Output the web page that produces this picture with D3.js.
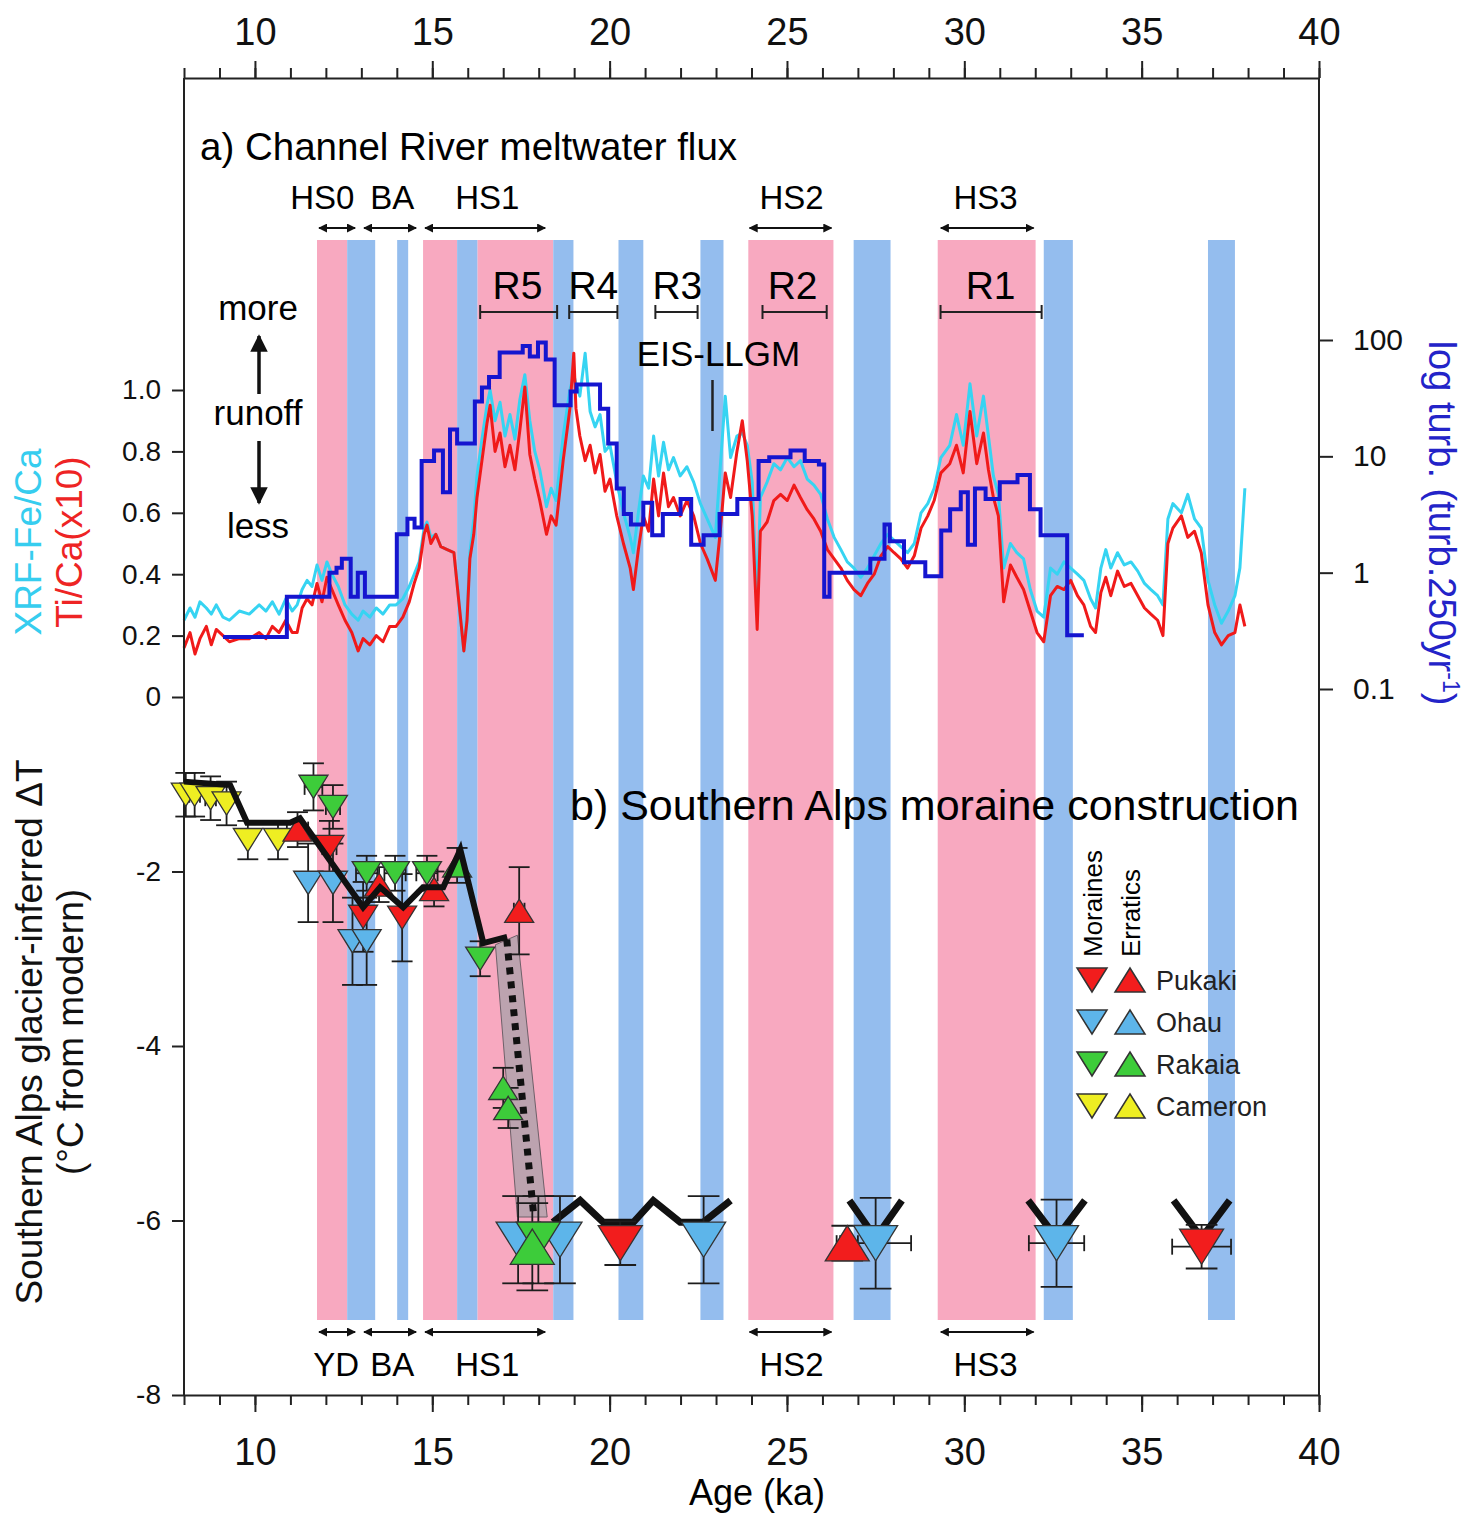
<!DOCTYPE html>
<html>
<head>
<meta charset="utf-8">
<script src="https://cdn.jsdelivr.net/npm/d3@7"></script>
<style>
  body { margin: 0; background: #fff; }
  svg { font-family: "Liberation Sans", Arial, Helvetica, sans-serif; }
</style>
</head>
<body>
<script>
const w = 1472;
const h = 1520;

// shaded intervals (ka)
const pinkBands = [[11.75, 12.6], [14.74, 15.7], [16.27, 18.41], [23.91, 26.31], [29.25, 32.01]];
const blueBands = [[12.6, 13.39], [14.01, 14.32], [15.7, 16.27], [18.41, 18.98], [20.25, 20.95],
  [22.56, 23.21], [26.88, 27.92], [32.24, 33.06], [36.87, 37.63]];

// stadial / interstadial arrows
const hsTopLabels = ["HS0", "BA", "HS1", "HS2", "HS3"];
const hsBottomLabels = ["YD", "BA", "HS1", "HS2", "HS3"];
const hsStart = [11.75, 13.02, 14.74, 23.89, 29.28];
const hsEnd = [12.88, 14.6, 18.24, 26.31, 32.01];
const hsTopMid = [11.9, 13.87, 16.55, 25.13, 30.6];
const hsBottomMid = [12.29, 13.87, 16.55, 25.13, 30.6];

// runoff events
const rLabels = ["R5", "R4", "R3", "R2", "R1"];
const rStart = [16.35, 18.86, 21.29, 24.31, 29.33];
const rEnd = [18.52, 20.22, 22.48, 26.12, 32.18];
const rMid = [17.4, 19.54, 21.91, 25.16, 30.74];
const llgmAge = 22.9;

// core XRF ratios (age ka)
const coreAge = [
  8.0, 8.17, 8.31, 8.45, 8.63, 8.77, 8.91, 9.1, 9.28, 9.56,
  9.84, 10.12, 10.31, 10.49, 10.68, 10.87, 11.05, 11.19, 11.33, 11.47,
  11.61, 11.75, 11.89, 12.03, 12.17, 12.35, 12.54, 12.73, 12.91, 13.05,
  13.24, 13.42, 13.61, 13.8, 13.98, 14.17, 14.35, 14.49, 14.63, 14.77,
  14.85, 14.96, 15.1, 15.24, 15.42, 15.61, 15.75, 15.89, 15.98, 16.06,
  16.17, 16.26, 16.4, 16.54, 16.63, 16.77, 16.91, 17.05, 17.19, 17.33,
  17.47, 17.61, 17.75, 17.89, 18.03, 18.22, 18.35, 18.49,
  18.69, 18.88, 18.99, 19.05, 19.16, 19.31, 19.45, 19.59, 19.73, 19.87,
  20.01, 20.2, 20.39, 20.58, 20.67, 20.81, 20.95, 21.1, 21.24, 21.38,
  21.52, 21.66, 21.8, 21.99, 22.18, 22.37, 22.56, 22.75, 22.98, 23.12,
  23.26, 23.41, 23.59, 23.74, 23.88, 24.02, 24.16, 24.25, 24.44, 24.63,
  24.82, 25.01, 25.2, 25.38, 25.57, 25.76, 25.95, 26.14, 26.33, 26.52,
  26.7, 26.89, 27.08, 27.27, 27.46, 27.65, 27.84, 28.02, 28.21, 28.4,
  28.59, 28.78, 28.97, 29.15, 29.34,
  29.59, 29.78, 29.97, 30.16, 30.35, 30.54, 30.68, 30.82, 30.96, 31.11,
  31.3, 31.48, 31.67, 31.86, 32.05, 32.24, 32.43, 32.62, 32.81, 33.0,
  33.19, 33.37, 33.56, 33.7, 33.85, 33.99, 34.13, 34.32, 34.51, 34.7,
  34.89, 35.08, 35.26, 35.45, 35.6, 35.74, 35.88, 36.12, 36.3, 36.49,
  36.68, 36.87, 37.06, 37.25, 37.44, 37.63, 37.77, 37.91
];
const tiCa = [
  0.16, 0.21, 0.14, 0.19, 0.23, 0.17, 0.22, 0.20, 0.18, 0.19,
  0.19, 0.21, 0.19, 0.23, 0.21, 0.25, 0.21, 0.21, 0.29, 0.32,
  0.30, 0.37, 0.31, 0.39, 0.35, 0.30, 0.25, 0.21, 0.15, 0.19,
  0.17, 0.20, 0.18, 0.23, 0.23, 0.26, 0.31, 0.37, 0.42, 0.53,
  0.56, 0.50, 0.53, 0.49, 0.48, 0.47, 0.31, 0.15, 0.25, 0.45,
  0.53, 0.65, 0.77, 0.89, 0.95, 0.80, 0.86, 0.75, 0.82, 0.74,
  0.87, 1.01, 0.79, 0.71, 0.64, 0.53, 0.59, 0.56,
  0.77, 0.94, 1.12, 0.94, 0.85, 0.77, 0.82, 0.73, 0.79, 0.67,
  0.71, 0.59, 0.50, 0.42, 0.35, 0.48, 0.59, 0.54, 0.71, 0.59,
  0.73, 0.62, 0.65, 0.59, 0.64, 0.59, 0.50, 0.45, 0.38, 0.54,
  0.73, 0.65, 0.80, 0.90, 0.77, 0.59, 0.22, 0.54, 0.57, 0.64,
  0.66, 0.64, 0.69, 0.65, 0.61, 0.58, 0.54, 0.48, 0.45, 0.42,
  0.38, 0.35, 0.33, 0.37, 0.40, 0.46, 0.49, 0.47, 0.45, 0.42,
  0.46, 0.55, 0.59, 0.64, 0.73,
  0.76, 0.82, 0.73, 0.93, 0.76, 0.86, 0.74, 0.65, 0.59, 0.31,
  0.43, 0.39, 0.35, 0.28, 0.21, 0.18, 0.33, 0.36, 0.35, 0.38,
  0.33, 0.30, 0.23, 0.21, 0.34, 0.39, 0.33, 0.41, 0.36, 0.37,
  0.33, 0.29, 0.27, 0.25, 0.20, 0.50, 0.55, 0.59, 0.52, 0.54,
  0.47, 0.30, 0.21, 0.17, 0.20, 0.21, 0.30, 0.23
];
const feCa = [
  0.25, 0.29, 0.26, 0.31, 0.29, 0.27, 0.30, 0.26, 0.25, 0.28,
  0.27, 0.30, 0.28, 0.31, 0.27, 0.32, 0.28, 0.30, 0.35, 0.38,
  0.36, 0.43, 0.38, 0.44, 0.40, 0.36, 0.30, 0.27, 0.25, 0.28,
  0.26, 0.29, 0.27, 0.30, 0.30, 0.32, 0.36, 0.40, 0.44, 0.55,
  0.57, 0.52, 0.53, 0.49, 0.48, 0.47, 0.31, 0.15, 0.27, 0.47,
  0.58, 0.72, 0.84, 0.95, 1.00, 0.90, 0.96, 0.85, 0.92, 0.84,
  0.97, 1.05, 0.90, 0.80, 0.74, 0.62, 0.68, 0.64,
  0.85, 1.00, 1.05, 1.02, 0.98, 1.12, 0.93, 0.88, 0.92, 0.80,
  0.82, 0.70, 0.60, 0.52, 0.47, 0.60, 0.72, 0.68, 0.85, 0.72,
  0.83, 0.74, 0.78, 0.72, 0.75, 0.70, 0.63, 0.58, 0.52, 0.75,
  0.98, 0.78, 0.85, 0.86, 0.82, 0.70, 0.30, 0.65, 0.70, 0.76,
  0.74, 0.78, 0.75, 0.77, 0.71, 0.69, 0.66, 0.58, 0.52, 0.48,
  0.44, 0.42, 0.39, 0.42, 0.46, 0.50, 0.53, 0.51, 0.49, 0.47,
  0.50, 0.60, 0.63, 0.68, 0.78,
  0.82, 0.92, 0.82, 1.02, 0.85, 0.98, 0.85, 0.72, 0.66, 0.42,
  0.50, 0.47, 0.45, 0.35, 0.28, 0.26, 0.42, 0.40, 0.44, 0.42,
  0.40, 0.38, 0.32, 0.29, 0.42, 0.48, 0.42, 0.47, 0.43, 0.44,
  0.41, 0.37, 0.35, 0.33, 0.30, 0.58, 0.63, 0.60, 0.66, 0.58,
  0.55, 0.38, 0.30, 0.24, 0.28, 0.33, 0.42, 0.68
];

// turbidite frequency, 250 yr bins (step starts)
const turbAge = [
  9.1, 10.9, 12.1, 12.3, 12.45, 12.7, 12.9, 13.1, 14.0, 14.3,
  14.5, 14.7, 15.05, 15.3, 15.5, 15.7, 16.2, 16.4, 16.6, 16.9,
  17.55, 17.75, 17.98, 18.2, 18.45, 18.9, 19.07, 19.73, 19.96, 20.2,
  20.4, 20.6, 20.95, 21.2, 21.5, 22.0, 22.3, 22.65, 23.1, 23.6,
  24.2, 24.5, 25.1, 25.5, 25.9, 26.05, 26.2, 27.35, 27.75, 27.9,
  28.3, 28.9, 29.35, 29.6, 29.9, 30.1, 30.3, 30.6, 31.0, 31.5,
  31.85, 32.15, 32.9, 33.37
];
const turbVal = [
  0.28, 0.62, 1.0, 1.1, 1.32, 0.62, 1.0, 0.62, 2.14, 2.9,
  2.45, 9.1, 11.2, 4.9, 17, 12.9, 29.6, 39, 48, 78,
  89, 72, 95, 68, 27.5, 36, 41.5, 25.6, 12.9, 5.3,
  3.2, 2.6, 4.0, 2.1, 3.2, 4.3, 1.74, 2.1, 3.2, 4.3,
  9.1, 9.8, 11.2, 9.1, 8.5, 0.62, 1.0, 1.32, 2.6, 1.86,
  1.23, 0.93, 2.3, 3.5, 4.9, 1.74, 5.3, 4.3, 6.0, 6.9,
  3.5, 2.1, 0.29, 0.29
];

// moraine / erratic dated glacier positions as ΔT
const mAge = [8.05, 8.3, 8.75, 9.2, 9.8, 10.65, 11.2, 11.5, 11.65, 12.1,
  12.2, 12.2, 12.75, 13.15, 13.05, 13.15, 13.5, 13.95, 14.15, 14.85,
  15.05, 15.7, 16.35, 17.0, 17.14, 17.45, 17.42, 18.6, 17.99, 17.82,
  20.3, 22.65, 26.7, 27.5, 32.6, 36.69];
const mT = [-1.12, -1.12, -1.16, -1.22, -1.64, -1.64, -1.52, -2.13, -1.03, -1.72,
  -1.26, -2.13, -2.8, -2.8, -2.52, -2.02, -2.15, -2.02, -2.53, -2.02,
  -2.2, -1.93, -3.0, -4.48, -4.71, -2.45, -6.22, -6.22, -6.22, -6.3,
  -6.26, -6.22, -6.26, -6.26, -6.26, -6.3];
const mSite = ["Cameron", "Cameron", "Cameron", "Cameron", "Cameron", "Cameron", "Pukaki", "Ohau", "Rakaia", "Pukaki",
  "Rakaia", "Ohau", "Ohau", "Ohau", "Pukaki", "Rakaia", "Pukaki", "Rakaia", "Pukaki", "Rakaia",
  "Pukaki", "Rakaia", "Rakaia", "Rakaia", "Rakaia", "Pukaki", "Ohau", "Ohau", "Rakaia", "Rakaia",
  "Pukaki", "Ohau", "Pukaki", "Ohau", "Ohau", "Pukaki"];
const mType = ["M", "M", "M", "M", "M", "M", "E", "M", "M", "M",
  "M", "M", "M", "M", "M", "M", "E", "M", "M", "M",
  "E", "E", "M", "E", "E", "E", "M", "M", "M", "E",
  "M", "M", "E", "M", "M", "M"];
const mTErr = [0.25, 0.25, 0.25, 0.25, 0.22, 0.22, 0.2, 0.45, 0.27, 0.3,
  0.25, 0.45, 0.5, 0.5, 0.4, 0.2, 0.2, 0.2, 0.5, 0.2,
  0.2, 0.2, 0.2, 0.23, 0.23, 0.5, 0.5, 0.5, 0.5, 0.5,
  0.25, 0.5, 0.2, 0.52, 0.5, 0.25];
const mAgeErr = [0, 0.15, 0.15, 0, 0, 0, 0.3, 0, 0.25, 0.2,
  0.2, 0, 0, 0, 0, 0.3, 0, 0.3, 0, 0.3,
  0, 0, 0, 0, 0, 0.15, 0, 0, 0, 0,
  0, 0, 0.3, 1.0, 0.78, 0.83];

// stacked ΔT reconstruction
const stackA = [[8.0, -0.97], [9.3, -1.01], [9.78, -1.44], [10.99, -1.44], [11.27, -1.39],
  [13.05, -2.41], [13.53, -2.18], [14.18, -2.41], [14.74, -2.18], [15.31, -2.18],
  [15.79, -1.75], [16.44, -2.82], [17.11, -2.75]];
const stackB = [[18.4, -6.02], [19.17, -5.77], [19.82, -6.02], [20.67, -6.02], [21.23, -5.77],
  [21.99, -6.02], [22.64, -6.02], [23.41, -5.77]];
const stackV = [
  [[26.76, -5.77], [27.5, -6.2], [28.24, -5.77]],
  [[31.8, -5.77], [32.6, -6.2], [33.4, -5.77]],
  [[35.9, -5.77], [36.69, -6.2], [37.48, -5.77]]
];
const deglacLine = [[17.1, -2.78], [17.85, -5.9]];
const deglacEnvelope = [[16.78, -2.84], [17.4, -2.73], [18.24, -5.96], [17.4, -5.96]];

const legendSites = ["Pukaki", "Ohau", "Rakaia", "Cameron"];
const siteColor = { Pukaki: "#f21d1d", Ohau: "#5db5ea", Rakaia: "#3dcc3a", Cameron: "#eeee22" };

const svg = d3
  .select("body")
  .append("svg")
  .attr("width", w)
  .attr("height", h);

const x = d3.scaleLinear().domain([8, 40]).range([184, 1319]);
const yRatio = d3.scaleLinear().domain([0, 1]).range([697, 390]);
const yTurb = d3.scaleLog().domain([0.1, 100]).range([689, 340]);
const yDT = d3.scaleLinear().domain([0, -8]).range([697, 1395]);
const frameTop = 78;
const frameBottom = 1395;

// arrow heads
const defs = svg.append("defs");
defs
  .append("marker")
  .attr("id", "head")
  .attr("viewBox", "0 0 10 10")
  .attr("refX", 9)
  .attr("refY", 5)
  .attr("markerWidth", 4.5)
  .attr("markerHeight", 4.5)
  .attr("orient", "auto-start-reverse")
  .append("path")
  .attr("d", "M0,0 L10,5 L0,10 z")
  .attr("fill", "#111");
defs
  .append("marker")
  .attr("id", "bighead")
  .attr("viewBox", "0 0 10 10")
  .attr("refX", 9)
  .attr("refY", 5)
  .attr("markerWidth", 5)
  .attr("markerHeight", 5)
  .attr("orient", "auto")
  .append("path")
  .attr("d", "M0,0 L10,5 L0,10 z")
  .attr("fill", "#111");

// bands
svg
  .selectAll("rect.pink")
  .data(pinkBands)
  .enter()
  .append("rect")
  .attr("x", d => x(d[0]))
  .attr("width", d => x(d[1]) - x(d[0]))
  .attr("y", 240)
  .attr("height", 1320 - 240)
  .attr("fill", "#f8a9c0");
svg
  .selectAll("rect.blue")
  .data(blueBands)
  .enter()
  .append("rect")
  .attr("x", d => x(d[0]))
  .attr("width", d => x(d[1]) - x(d[0]))
  .attr("y", 240)
  .attr("height", 1320 - 240)
  .attr("fill", "#94bdee");

// upper panel series
const ratioLine = d3
  .line()
  .x(d => x(d[0]))
  .y(d => yRatio(d[1]));
svg
  .append("path")
  .attr("d", ratioLine(coreAge.map((a, i) => [a, feCa[i]])))
  .attr("fill", "none")
  .attr("stroke", "#36d4f2")
  .attr("stroke-width", 3)
  .attr("stroke-linejoin", "round");
svg
  .append("path")
  .attr("d", ratioLine(coreAge.map((a, i) => [a, tiCa[i]])))
  .attr("fill", "none")
  .attr("stroke", "#f01a1a")
  .attr("stroke-width", 3)
  .attr("stroke-linejoin", "round");
svg
  .append("path")
  .attr(
    "d",
    d3
      .line()
      .curve(d3.curveStepAfter)
      .x(d => x(d[0]))
      .y(d => yTurb(d[1]))(turbAge.map((a, i) => [a, turbVal[i]]))
  )
  .attr("fill", "none")
  .attr("stroke", "#1515cf")
  .attr("stroke-width", 4);

// axes
function styleAxis(g, size) {
  g.selectAll("line").attr("stroke", "#222").attr("stroke-width", 2);
  g.selectAll("path").attr("stroke", "#222").attr("stroke-width", 2);
  g.selectAll("text").style("font-size", size + "px").attr("fill", "#111");
}

const minorTicks = d3.range(8, 41);
const majorTicks = d3.range(10, 41, 5);

svg
  .append("g")
  .attr("transform", "translate(0," + frameTop + ")")
  .call(d3.axisTop(x).tickValues(minorTicks).tickSize(10).tickFormat("").tickSizeOuter(0))
  .call(g => styleAxis(g, 38));
svg
  .append("g")
  .attr("transform", "translate(0," + frameTop + ")")
  .call(d3.axisTop(x).tickValues(majorTicks).tickSize(17).tickPadding(16).tickSizeOuter(0))
  .call(g => g.select(".domain").remove())
  .call(g => styleAxis(g, 38));

svg
  .append("g")
  .attr("transform", "translate(0," + frameBottom + ")")
  .call(d3.axisBottom(x).tickValues(minorTicks).tickSize(10).tickFormat("").tickSizeOuter(0))
  .call(g => styleAxis(g, 38));
svg
  .append("g")
  .attr("transform", "translate(0," + frameBottom + ")")
  .call(d3.axisBottom(x).tickValues(majorTicks).tickSize(17).tickPadding(26).tickSizeOuter(0))
  .call(g => g.select(".domain").remove())
  .call(g => styleAxis(g, 38));

// left axis, two scales sharing the zero
svg
  .append("g")
  .attr("transform", "translate(" + x(8) + ",0)")
  .call(
    d3
      .axisLeft(yRatio)
      .tickValues([0, 0.2, 0.4, 0.6, 0.8, 1.0])
      .tickFormat(d => (d === 0 ? "0" : d3.format(".1f")(d)))
      .tickSize(12)
      .tickPadding(11)
  )
  .call(g => g.select(".domain").remove())
  .call(g => styleAxis(g, 28));
svg
  .append("g")
  .attr("transform", "translate(" + x(8) + ",0)")
  .call(
    d3
      .axisLeft(yDT)
      .tickValues([-2, -4, -6, -8])
      .tickFormat(d => String(d))
      .tickSize(12)
      .tickPadding(11)
  )
  .call(g => g.select(".domain").remove())
  .call(g => styleAxis(g, 28));

// right log axis
svg
  .append("g")
  .attr("transform", "translate(" + x(40) + ",0)")
  .call(
    d3
      .axisRight(yTurb)
      .tickValues([0.1, 1, 10, 100])
      .tickFormat(d => (d < 1 ? "0.1" : d3.format("d")(d)))
      .tickSize(14)
      .tickPadding(20)
  )
  .call(g => g.select(".domain").remove())
  .call(g => styleAxis(g, 30));

// frame sides
svg
  .append("line")
  .attr("x1", x(8)).attr("x2", x(8))
  .attr("y1", frameTop).attr("y2", frameBottom)
  .attr("stroke", "#222").attr("stroke-width", 2);
svg
  .append("line")
  .attr("x1", x(40)).attr("x2", x(40))
  .attr("y1", frameTop).attr("y2", frameBottom)
  .attr("stroke", "#222").attr("stroke-width", 2);

// panel a annotations
svg
  .append("text")
  .attr("x", 200)
  .attr("y", 160)
  .style("font-size", "38.5px")
  .text("a) Channel River meltwater flux");

svg
  .selectAll("text.hsTop")
  .data(hsTopLabels)
  .enter()
  .append("text")
  .attr("x", (d, i) => x(hsTopMid[i]))
  .attr("y", 209)
  .attr("text-anchor", "middle")
  .style("font-size", "33px")
  .text(d => d);

function hsArrows(yPos) {
  svg
    .selectAll(null)
    .data(hsStart)
    .enter()
    .append("line")
    .attr("x1", (d, i) => x(hsStart[i]) + 2)
    .attr("x2", (d, i) => x(hsEnd[i]) - 2)
    .attr("y1", yPos)
    .attr("y2", yPos)
    .attr("stroke", "#111")
    .attr("stroke-width", 2)
    .attr("marker-start", "url(#head)")
    .attr("marker-end", "url(#head)");
}
hsArrows(228);
hsArrows(1332);

svg
  .selectAll("text.hsBottom")
  .data(hsBottomLabels)
  .enter()
  .append("text")
  .attr("x", (d, i) => x(hsBottomMid[i]))
  .attr("y", 1376)
  .attr("text-anchor", "middle")
  .style("font-size", "33px")
  .text(d => d);

// R brackets
svg
  .selectAll("text.r")
  .data(rLabels)
  .enter()
  .append("text")
  .attr("x", (d, i) => x(rMid[i]))
  .attr("y", 299)
  .attr("text-anchor", "middle")
  .style("font-size", "39px")
  .text(d => d);
rLabels.forEach((d, i) => {
  const g = svg.append("g").attr("stroke", "#222").attr("stroke-width", 2);
  g.append("line").attr("x1", x(rStart[i])).attr("x2", x(rEnd[i])).attr("y1", 312).attr("y2", 312);
  g.append("line").attr("x1", x(rStart[i])).attr("x2", x(rStart[i])).attr("y1", 305).attr("y2", 319);
  g.append("line").attr("x1", x(rEnd[i])).attr("x2", x(rEnd[i])).attr("y1", 305).attr("y2", 319);
});

svg
  .append("text")
  .attr("x", x(23.07))
  .attr("y", 366)
  .attr("text-anchor", "middle")
  .style("font-size", "35px")
  .text("EIS-LLGM");
svg
  .append("line")
  .attr("x1", x(llgmAge)).attr("x2", x(llgmAge))
  .attr("y1", 380).attr("y2", 431)
  .attr("stroke", "#222").attr("stroke-width", 2.5);

// runoff direction
[["more", 320], ["runoff", 425], ["less", 538]].forEach(d => {
  svg
    .append("text")
    .attr("x", 258)
    .attr("y", d[1])
    .attr("text-anchor", "middle")
    .style("font-size", "35px")
    .text(d[0]);
});
svg
  .append("line")
  .attr("x1", 259).attr("x2", 259)
  .attr("y1", 394).attr("y2", 336)
  .attr("stroke", "#111").attr("stroke-width", 3.5)
  .attr("marker-end", "url(#bighead)");
svg
  .append("line")
  .attr("x1", 259).attr("x2", 259)
  .attr("y1", 441).attr("y2", 503)
  .attr("stroke", "#111").attr("stroke-width", 3.5)
  .attr("marker-end", "url(#bighead)");

// axis titles
svg
  .append("text")
  .attr("transform", "translate(41,542) rotate(-90)")
  .attr("text-anchor", "middle")
  .style("font-size", "37px")
  .attr("fill", "#36cdef")
  .text("XRF-Fe/Ca");
svg
  .append("text")
  .attr("transform", "translate(82,542) rotate(-90)")
  .attr("text-anchor", "middle")
  .style("font-size", "37px")
  .attr("fill", "#ee2424")
  .text("Ti/Ca(x10)");
svg
  .append("text")
  .attr("transform", "translate(42,1032) rotate(-90)")
  .attr("text-anchor", "middle")
  .style("font-size", "37px")
  .attr("fill", "#111")
  .text("Southern Alps glacier-inferred ΔT");
svg
  .append("text")
  .attr("transform", "translate(83,1032) rotate(-90)")
  .attr("text-anchor", "middle")
  .style("font-size", "37px")
  .attr("fill", "#111")
  .text("(°C from modern)");
const turbTitle = svg
  .append("text")
  .attr("transform", "translate(1429,523) rotate(90)")
  .attr("text-anchor", "middle")
  .style("font-size", "38px")
  .attr("fill", "#2323c8");
turbTitle.append("tspan").text("log turb. (turb.250yr");
turbTitle.append("tspan").attr("dy", -14).style("font-size", "23px").text("-1");
turbTitle.append("tspan").attr("dy", 14).text(")");

svg
  .append("text")
  .attr("x", 757)
  .attr("y", 1505)
  .attr("text-anchor", "middle")
  .style("font-size", "36px")
  .text("Age (ka)");

// panel b
svg
  .append("text")
  .attr("x", 570)
  .attr("y", 820)
  .style("font-size", "43px")
  .text("b) Southern Alps moraine construction");

svg
  .append("path")
  .attr("d", d3.line().x(d => x(d[0])).y(d => yDT(d[1]))(deglacEnvelope) + "Z")
  .attr("fill", "#b5a2ad")
  .attr("fill-opacity", 0.9)
  .attr("stroke", "#6f6069")
  .attr("stroke-width", 1);

const dtLine = d3
  .line()
  .x(d => x(d[0]))
  .y(d => yDT(d[1]));

// thick stack lines behind the LGM markers
[stackB].concat(stackV).forEach(seg => {
  svg
    .append("path")
    .attr("d", dtLine(seg))
    .attr("fill", "none")
    .attr("stroke", "#111")
    .attr("stroke-width", 7);
});

function triPath(cx, cy, s, up) {
  const hh = s * 0.4;
  const p = d3.path();
  if (up) {
    p.moveTo(cx, cy - hh);
    p.lineTo(cx + s / 2, cy + hh);
    p.lineTo(cx - s / 2, cy + hh);
  } else {
    p.moveTo(cx - s / 2, cy - hh);
    p.lineTo(cx + s / 2, cy - hh);
    p.lineTo(cx, cy + hh);
  }
  p.closePath();
  return p.toString();
}

const markerSize = i => (mT[i] < -5 ? 44 : 29);

// error bars
mAge.forEach((a, i) => {
  const cx = x(a);
  const cy = yDT(mT[i]);
  const cap = markerSize(i) * 0.36;
  const g = svg.append("g").attr("stroke", "#1d1d1d").attr("stroke-width", 1.8);
  const y1 = yDT(mT[i] + mTErr[i]);
  const y2 = yDT(mT[i] - mTErr[i]);
  g.append("line").attr("x1", cx).attr("x2", cx).attr("y1", y1).attr("y2", y2);
  g.append("line").attr("x1", cx - cap).attr("x2", cx + cap).attr("y1", y1).attr("y2", y1);
  g.append("line").attr("x1", cx - cap).attr("x2", cx + cap).attr("y1", y2).attr("y2", y2);
  if (mAgeErr[i] > 0) {
    const x1 = x(a - mAgeErr[i]);
    const x2 = x(a + mAgeErr[i]);
    g.append("line").attr("x1", x1).attr("x2", x2).attr("y1", cy).attr("y2", cy);
    g.append("line").attr("x1", x1).attr("x2", x1).attr("y1", cy - 8).attr("y2", cy + 8);
    g.append("line").attr("x1", x2).attr("x2", x2).attr("y1", cy - 8).attr("y2", cy + 8);
  }
});

// markers
svg
  .selectAll("path.mk")
  .data(mAge)
  .enter()
  .append("path")
  .attr("d", (d, i) => triPath(x(d), yDT(mT[i]), markerSize(i), mType[i] === "E"))
  .attr("fill", (d, i) => siteColor[mSite[i]])
  .attr("stroke", "#333")
  .attr("stroke-width", 1.3);

// deglacial stack on top
svg
  .append("path")
  .attr("d", dtLine(stackA))
  .attr("fill", "none")
  .attr("stroke", "#111")
  .attr("stroke-width", 6)
  .attr("stroke-linejoin", "miter");
svg
  .append("path")
  .attr("d", dtLine(deglacLine))
  .attr("fill", "none")
  .attr("stroke", "#111")
  .attr("stroke-width", 7)
  .attr("stroke-dasharray", "7,7");

// legend
svg
  .append("text")
  .attr("transform", "translate(1102,957) rotate(-90)")
  .style("font-size", "26px")
  .text("Moraines");
svg
  .append("text")
  .attr("transform", "translate(1140,957) rotate(-90)")
  .style("font-size", "26px")
  .text("Erratics");
legendSites.forEach((s, i) => {
  const ly = 980 + i * 42;
  svg
    .append("path")
    .attr("d", triPath(1092, ly, 30, false))
    .attr("fill", siteColor[s])
    .attr("stroke", "#333")
    .attr("stroke-width", 1.5);
  svg
    .append("path")
    .attr("d", triPath(1130, ly, 30, true))
    .attr("fill", siteColor[s])
    .attr("stroke", "#333")
    .attr("stroke-width", 1.5);
  svg
    .append("text")
    .attr("x", 1156)
    .attr("y", ly + 10)
    .style("font-size", "27px")
    .attr("fill", "#222")
    .text(s);
});
</script>
</body>
</html>
